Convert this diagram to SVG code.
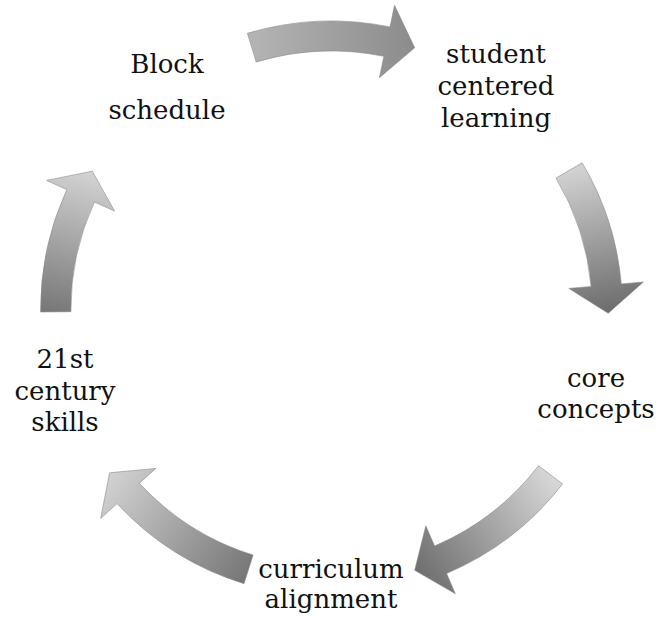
<svg xmlns="http://www.w3.org/2000/svg" width="660" height="621" viewBox="0 0 660 621">
  <style>
    .lbl { font-family: "DejaVu Serif", "Liberation Serif", serif; font-size: 26px; fill: #111; text-anchor: middle; }
    .arr { stroke: #8a8a8a; stroke-width: 0.6; stroke-linejoin: round; }
  </style>
  <defs>
    <linearGradient id="g1" gradientUnits="userSpaceOnUse" x1="250" y1="47" x2="414" y2="47">
      <stop offset="0" stop-color="#b4b4b4"/>
      <stop offset="1" stop-color="#8c8c8c"/>
    </linearGradient>
    <linearGradient id="g2" gradientUnits="userSpaceOnUse" x1="570" y1="170" x2="606" y2="313">
      <stop offset="0" stop-color="#d2d2d2"/>
      <stop offset="1" stop-color="#6c6c6c"/>
    </linearGradient>
    <linearGradient id="g3" gradientUnits="userSpaceOnUse" x1="550" y1="475" x2="415" y2="570">
      <stop offset="0" stop-color="#d6d6d6"/>
      <stop offset="1" stop-color="#6e6e6e"/>
    </linearGradient>
    <linearGradient id="g4" gradientUnits="userSpaceOnUse" x1="248" y1="570" x2="110" y2="473">
      <stop offset="0" stop-color="#787878"/>
      <stop offset="1" stop-color="#d2d2d2"/>
    </linearGradient>
    <linearGradient id="g5" gradientUnits="userSpaceOnUse" x1="56" y1="312" x2="92" y2="171">
      <stop offset="0" stop-color="#787878"/>
      <stop offset="1" stop-color="#d4d4d4"/>
    </linearGradient>
  </defs>

  <g id="connectors">
    <path class="arr" fill="url(#g1)" d="M247.4,33.3 A290.9,288 0 0 1 390.0,26.9 L394.5,5.3 L414.7,47.7 L379.4,77.8 L383.9,56.3 A260.6,258 0 0 0 256.2,62.0 Z"/>
    <path class="arr" fill="url(#g2)" d="M582.1,162.8 A290.9,288 0 0 1 621.3,283.9 L643.4,282.0 L608.2,313.3 L568.9,288.4 L591.1,286.5 A260.6,258 0 0 0 556.0,178.1 Z"/>
    <path class="arr" fill="url(#g3)" d="M562.6,483.9 A290.9,288 0 0 1 446.6,573.5 L455.3,593.7 L414.7,570.3 L425.8,525.8 L434.6,546.0 A260.6,258 0 0 0 538.5,465.7 Z"/>
    <path class="arr" fill="url(#g4)" d="M244.0,583.7 A290.9,288 0 0 1 117.0,503.6 L100.7,518.4 L109.6,472.8 L155.8,468.4 L139.4,483.3 A260.6,258 0 0 0 253.1,555.1 Z"/>
    <path class="arr" fill="url(#g5)" d="M40.6,312.0 A290.9,288 0 0 1 66.8,189.6 L46.6,180.4 L92.3,171.2 L114.6,211.1 L94.4,202.0 A260.6,258 0 0 0 70.9,311.7 Z"/>
  </g>

  <g id="node-block-schedule">
    <text class="lbl" x="167" y="73">Block</text>
    <text class="lbl" x="167" y="119">schedule</text>
  </g>
  <g id="node-student-centered-learning">
    <text class="lbl" x="496" y="63">student</text>
    <text class="lbl" x="496" y="95">centered</text>
    <text class="lbl" x="496" y="127">learning</text>
  </g>
  <g id="node-core-concepts">
    <text class="lbl" x="596" y="387">core</text>
    <text class="lbl" x="596" y="418">concepts</text>
  </g>
  <g id="node-curriculum-alignment">
    <text class="lbl" x="331" y="578">curriculum</text>
    <text class="lbl" x="331" y="608">alignment</text>
  </g>
  <g id="node-21st-century-skills">
    <text class="lbl" x="65" y="368">21st</text>
    <text class="lbl" x="65" y="400">century</text>
    <text class="lbl" x="65" y="431">skills</text>
  </g>
</svg>
